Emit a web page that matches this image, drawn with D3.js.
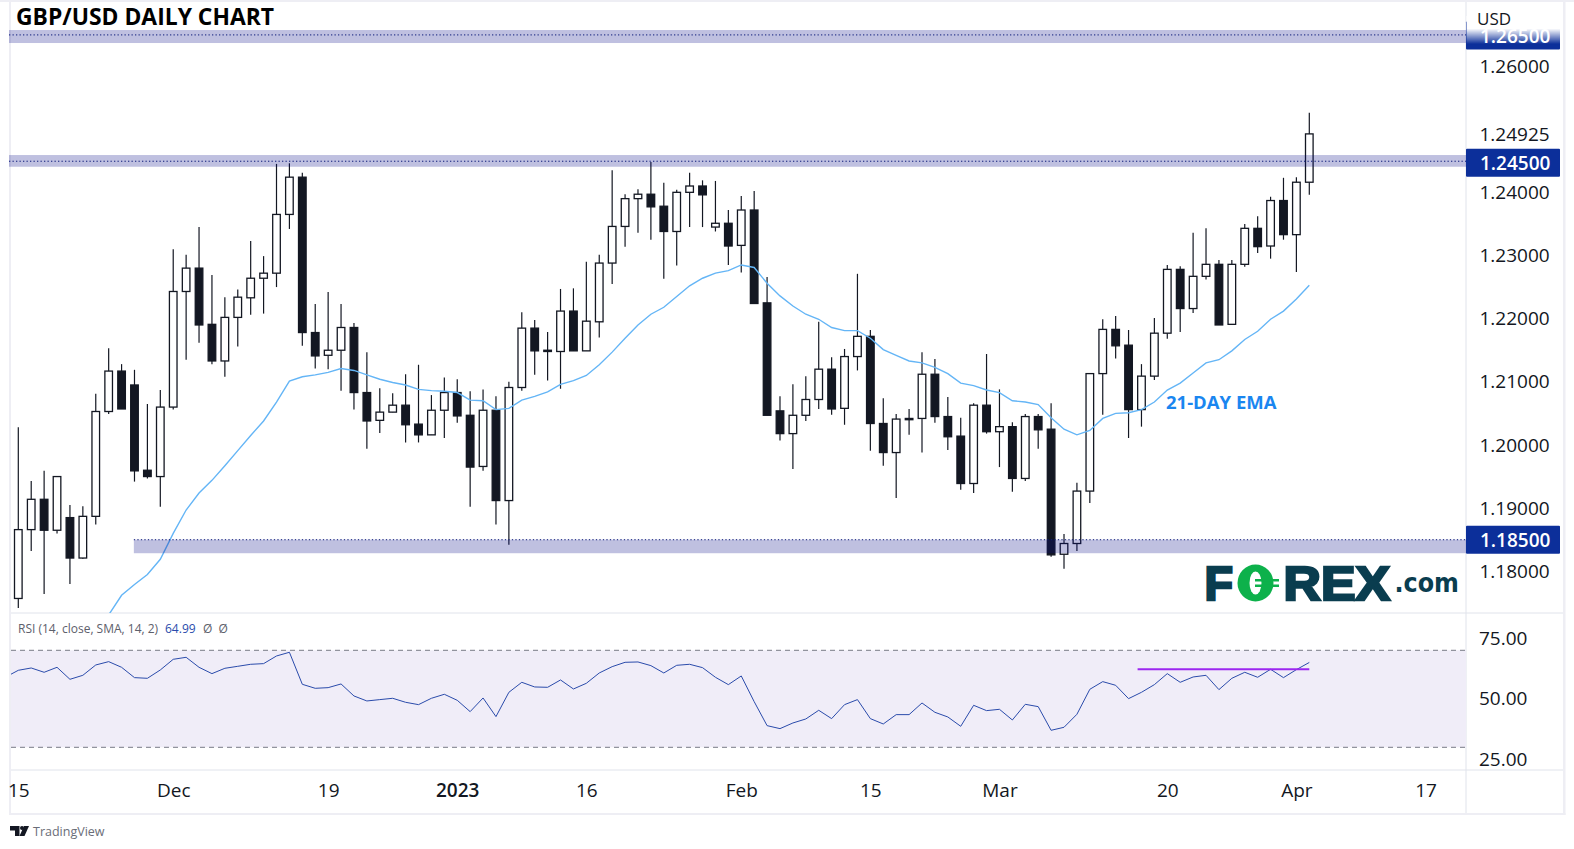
<!DOCTYPE html>
<html>
<head>
<meta charset="utf-8">
<script src="https://cdn.jsdelivr.net/npm/d3@7"></script>
<style>
  html, body { margin: 0; padding: 0; background: #fff; }
  svg { display: block; }
  text { font-family: "Open Sans", "Noto Sans", sans-serif; }
</style>
</head>
<body>
<div id="chart"></div>
<script>
// daily candles
const opens = [
  1.1757,1.1866,1.1914,1.1865,1.1885,1.1821,1.1887,1.2053,1.2117,1.2095,
  1.1960,1.1950,1.2060,1.2243,1.2280,1.2191,1.2133,1.2202,1.2233,1.2264,
  1.2272,1.2365,1.2424,1.2178,1.2142,1.2150,1.2186,1.2083,1.2039,1.2052,
  1.2063,1.2033,1.2016,1.2055,1.2083,1.2047,1.1966,1.2055,1.1912,1.2091,
  1.2185,1.2150,1.2148,1.2212,1.2149,1.2195,1.2288,1.2346,1.2390,1.2397,
  1.2378,1.2338,1.2400,1.2410,1.2345,1.2351,1.2316,1.2372,1.2225,1.2054,
  1.2018,1.2047,1.2072,1.2120,1.2058,1.2140,1.2172,1.2034,1.1988,1.2042,
  1.2042,1.2112,1.2045,1.2014,1.1939,1.2063,1.2021,1.2029,1.1947,1.2045,
  1.2025,1.1827,1.1844,1.1927,1.2113,1.2183,1.2158,1.2056,1.2109,1.2177,
  1.2278,1.2216,1.2267,1.2286,1.2191,1.2286,1.2343,1.2315,1.2387,1.2333,
  1.2416];
const highs = [
  1.2028,1.1943,1.1959,1.1950,1.1905,1.1903,1.2081,1.2153,1.2128,1.2119,
  1.2065,1.2087,1.2310,1.2301,1.2345,1.2269,1.2234,1.2246,1.2323,1.2299,
  1.2445,1.2446,1.2431,1.2223,1.2242,1.2223,1.2193,1.2147,1.2090,1.2082,
  1.2112,1.2127,1.2079,1.2107,1.2104,1.2085,1.2088,1.2077,1.2100,1.2210,
  1.2198,1.2179,1.2247,1.2248,1.2290,1.2301,1.2435,1.2397,1.2405,1.2448,
  1.2415,1.2404,1.2431,1.2419,1.2418,1.2372,1.2394,1.2402,1.2266,1.2077,
  1.2096,1.2109,1.2195,1.2139,1.2152,1.2271,1.2182,1.2074,1.2049,1.2057,
  1.2147,1.2136,1.2076,1.2043,1.2066,1.2144,1.2088,1.2036,1.2049,1.2049,
  1.2066,1.1859,1.1940,1.2113,1.2199,1.2204,1.2182,1.2128,1.2201,1.2285,
  1.2283,1.2336,1.2343,1.2293,1.2293,1.2350,1.2362,1.2393,1.2423,1.2424,
  1.2526];
const lows = [
  1.1742,1.1832,1.1764,1.1860,1.1780,1.1820,1.1874,1.2049,1.2057,1.1942,
  1.1947,1.1902,1.2056,1.2135,1.2162,1.2128,1.2108,1.2156,1.2206,1.2208,
  1.2250,1.2342,1.2157,1.2121,1.2120,1.2086,1.2056,1.1994,1.2019,1.2052,
  1.2004,1.2004,1.2016,1.2011,1.2035,1.1902,1.1959,1.1874,1.1842,1.2086,
  1.2111,1.2102,1.2089,1.2149,1.2149,1.2170,1.2255,1.2314,1.2336,1.2325,
  1.2263,1.2284,1.2345,1.2345,1.2338,1.2285,1.2273,1.2224,1.2047,1.2007,
  1.1962,1.2038,1.2057,1.2048,1.2032,1.2118,1.1991,1.1967,1.1916,1.2016,
  1.1988,1.2035,1.1992,1.1929,1.1924,1.2018,1.1965,1.1926,1.1943,1.1994,
  1.1823,1.1804,1.1832,1.1908,1.2048,1.2137,1.2011,1.2029,1.2103,1.2168,
  1.2179,1.2209,1.2262,1.2190,1.2191,1.2282,1.2304,1.2295,1.2325,1.2274,
  1.2396];
const closes = [
  1.1866,1.1914,1.1865,1.1950,1.1821,1.1887,1.2053,1.2117,1.2057,1.1959,
  1.1950,1.2060,1.2243,1.2280,1.2190,1.2133,1.2202,1.2234,1.2264,1.2272,
  1.2365,1.2424,1.2178,1.2141,1.2150,1.2186,1.2083,1.2038,1.2052,1.2063,
  1.2032,1.2016,1.2055,1.2083,1.2046,1.1965,1.2055,1.1912,1.2091,1.2185,
  1.2149,1.2148,1.2212,1.2149,1.2196,1.2288,1.2346,1.2390,1.2397,1.2377,
  1.2338,1.2400,1.2410,1.2396,1.2351,1.2315,1.2372,1.2224,1.2047,1.2018,
  1.2047,1.2072,1.2120,1.2057,1.2140,1.2172,1.2034,1.1988,1.2041,1.2040,
  1.2112,1.2045,1.2013,1.1939,1.2063,1.2021,1.2029,1.1947,1.2045,1.2024,
  1.1826,1.1844,1.1927,1.2113,1.2183,1.2157,1.2056,1.2109,1.2177,1.2278,
  1.2216,1.2267,1.2286,1.2190,1.2286,1.2343,1.2314,1.2387,1.2333,1.2416,
  1.24925];

// 21-day EMA, first point belongs to bar 7
const emaFirstBar = 7;
const ema = [
  1.1731,1.1762,1.1779,1.1795,1.1819,1.1860,1.1897,1.1924,1.1944,1.1967,
  1.1991,1.2015,1.2038,1.2068,1.2101,1.2108,1.2111,1.2115,1.2121,1.2118,
  1.2111,1.2104,1.2099,1.2095,1.2088,1.2086,1.2085,1.2083,1.2071,1.2070,
  1.2056,1.2058,1.2071,1.2077,1.2084,1.2096,1.2102,1.2110,1.2127,1.2147,
  1.2169,1.2190,1.2207,1.2218,1.2235,1.2252,1.2264,1.2272,1.2276,1.2285,
  1.2281,1.2256,1.2236,1.2220,1.2207,1.2199,1.2186,1.2181,1.2181,1.2169,
  1.2151,1.2142,1.2133,1.2130,1.2123,1.2113,1.2098,1.2094,1.2087,1.2083,
  1.2070,1.2068,1.2064,1.2043,1.2025,1.2016,1.2023,1.2042,1.2050,1.2051,
  1.2056,1.2068,1.2087,1.2098,1.2114,1.2130,1.2135,1.2149,1.2167,1.2180,
  1.2199,1.2212,1.2231,1.2253];

// RSI, first point belongs to bar -1 (just left of the pane)
const rsiFirstBar = -1;
const rsi = [
  58.90,61.75,62.71,60.93,62.99,58.04,59.69,63.95,65.33,62.99,58.73,
  58.45,61.89,66.29,67.11,62.99,60.38,62.58,63.40,64.23,64.50,
  67.66,69.18,55.98,54.33,54.60,56.12,51.17,49.11,49.66,50.21,
  48.56,47.59,50.21,51.86,49.38,44.71,50.34,42.65,52.68,56.80,
  54.88,54.74,57.77,54.05,56.39,60.65,63.26,65.05,65.19,63.68,
  60.65,63.81,64.23,62.85,58.87,55.84,59.42,48.83,38.93,37.70,
  40.03,41.68,45.26,41.82,47.59,49.66,41.82,39.62,43.47,43.47,
  48.28,44.43,42.51,38.66,47.32,45.12,45.67,41.27,47.73,46.77,
  37.01,38.25,43.61,53.92,57.08,55.57,50.07,52.68,55.84,60.38,
  56.80,59.00,59.69,53.78,58.45,60.93,58.87,62.16,58.73,62.03,
  64.99];

// axis content
const priceTicks = [1.26, 1.24, 1.23, 1.22, 1.21, 1.20, 1.19, 1.18];
const lastPrice = 1.24925;
const levels = [1.265, 1.245, 1.185];
const levelStarts = [-1, -1, 8.95]; // bar where each shaded zone starts
const rsiTicks = [75, 50, 25];
const rsiBand = [70, 30];
const rsiResistance = { from: 86.7, to: 100, value: 62.16 };
const tickBars = [0, 12, 24, 34, 44, 56, 66, 76, 89, 99, 109];
const tickLabels = ['15', 'Dec', '19', '2023', '16', 'Feb', '15', 'Mar', '20', 'Apr', '17'];

const W = 1574, H = 849;
const paneL = 11, paneR = 1466, paneT = 2, mainB = 613, rsiB = 770, timeB = 813, frameR = 1563;
const ink = '#131722', grid = '#e0e3eb', frame = '#eeeef4', blue = '#0c2f9a';
const fontSize = 19;

const x = d3.scaleLinear().domain([0, 100]).range([18.3, 1309.3]);
const y = d3.scaleLinear().domain([1.18, 1.26]).range([571.3, 66]);
const yRsi = d3.scaleLinear().domain([30, 70]).range([747.3, 650.3]);

const svg = d3.select('#chart').append('svg').attr('width', W).attr('height', H);
const defs = svg.append('defs');
defs.append('clipPath').attr('id', 'main').append('rect')
  .attr('x', paneL).attr('y', paneT).attr('width', paneR - paneL).attr('height', mainB - paneT);
defs.append('clipPath').attr('id', 'low').append('rect')
  .attr('x', paneL).attr('y', mainB).attr('width', paneR - paneL).attr('height', rsiB - mainB);
const fade = defs.append('linearGradient').attr('id', 'fade').attr('x1', 0).attr('x2', 0).attr('y1', 0).attr('y2', 1);
fade.append('stop').attr('offset', 0).attr('stop-color', '#fff').attr('stop-opacity', 1);
fade.append('stop').attr('offset', 0.45).attr('stop-color', '#fff').attr('stop-opacity', 1);
fade.append('stop').attr('offset', 1).attr('stop-color', '#fff').attr('stop-opacity', 0);

// frame around the panes
svg.append('rect').attr('width', W).attr('height', paneT).attr('fill', frame);
svg.append('rect').attr('x', 9).attr('width', 2).attr('height', timeB + 2).attr('fill', frame);
svg.append('rect').attr('x', frameR).attr('width', 2.5).attr('height', timeB + 2).attr('fill', frame);
svg.append('rect').attr('x', 9).attr('y', timeB).attr('width', frameR - 9 + 2.5).attr('height', 2).attr('fill', frame);
[[paneL, frameR, mainB, mainB], [paneL, frameR, rsiB, rsiB], [paneR, paneR, paneT, timeB]].forEach(l => {
  svg.append('line').attr('x1', l[0]).attr('x2', l[1]).attr('y1', l[2]).attr('y2', l[3])
    .attr('stroke', grid).attr('stroke-width', 1);
});

// candles
const bars = d3.range(opens.length);
const main = svg.append('g').attr('clip-path', 'url(#main)');
main.selectAll('line.wick').data(bars).join('line').attr('class', 'wick')
  .attr('x1', i => x(i)).attr('x2', i => x(i))
  .attr('y1', i => y(highs[i])).attr('y2', i => y(lows[i]))
  .attr('stroke', ink).attr('stroke-width', 1.2);
main.selectAll('rect.body').data(bars).join('rect').attr('class', 'body')
  .attr('x', i => x(i) - 3.8).attr('width', 7.6)
  .attr('y', i => y(Math.max(opens[i], closes[i])))
  .attr('height', i => Math.abs(y(opens[i]) - y(closes[i])))
  .attr('fill', i => closes[i] >= opens[i] ? '#fff' : ink)
  .attr('stroke', ink).attr('stroke-width', 1.3);

// ema
const emaLine = d3.line().x((d, i) => x(i + emaFirstBar)).y(d => y(d));
main.append('path').attr('d', emaLine(ema)).attr('fill', 'none')
  .attr('stroke', '#64b5f6').attr('stroke-width', 1.4);

// shaded zones, laid over the candles
const zoneTop = [-4.4, -5.7, 0];
const zoneBottom = [8.6, 6, 13.5];
const dotShift = [0.5, 0.5, 0];
const boxShift = [1, 2, 0];
levels.forEach((lv, k) => {
  const x0 = levelStarts[k] < 0 ? paneL - 2 : x(levelStarts[k]);
  svg.append('rect').attr('x', x0).attr('width', paneR - x0)
    .attr('y', y(lv) + zoneTop[k]).attr('height', zoneBottom[k] - zoneTop[k])
    .attr('fill', 'rgb(9,13,136)').attr('fill-opacity', 0.26);
  svg.append('line').attr('x1', x0).attr('x2', paneR)
    .attr('y1', y(lv) + dotShift[k]).attr('y2', y(lv) + dotShift[k])
    .attr('stroke', '#0c1a7a').attr('stroke-width', 1).attr('stroke-dasharray', '1.3 2.2');
});

svg.append('text').attr('x', 16).attr('y', 25).text('GBP/USD DAILY CHART')
  .attr('textLength', 258).attr('lengthAdjust', 'spacingAndGlyphs')
  .attr('font-size', 24).attr('font-weight', 700).attr('fill', '#000');
svg.append('text').attr('x', 1166).attr('y', 408.5).text('21-DAY EMA')
  .attr('font-size', 18.5).attr('font-weight', 700).attr('fill', '#1a86f0');

// price axis
const priceAxis = d3.axisRight(y).tickValues(priceTicks).tickFormat(d3.format('.5f')).tickSize(0).tickPadding(0);
const gPrice = svg.append('g').attr('transform', `translate(${paneR + 13.5},0)`).call(priceAxis);
gPrice.select('.domain').remove();
gPrice.selectAll('text').attr('font-size', fontSize).attr('fill', ink).style('font-family', '"Open Sans"');
svg.append('text').attr('x', paneR + 13.5).attr('y', y(lastPrice) + 1.5).attr('dy', '.32em')
  .text(d3.format('.5f')(lastPrice)).attr('font-size', fontSize).attr('fill', ink);

levels.forEach((lv, k) => {
  svg.append('rect').attr('x', paneR).attr('width', 94).attr('y', y(lv) + boxShift[k] - 14).attr('height', 28)
    .attr('rx', 1).attr('fill', blue);
  svg.append('text').attr('x', paneR + 14).attr('y', y(lv) + boxShift[k]).attr('dy', '.4em')
    .text(d3.format('.5f')(lv)).attr('font-size', fontSize).attr('font-weight', 600).attr('fill', '#fff');
});
// top label fades out under the USD header
svg.append('rect').attr('x', paneR + 0.5).attr('y', 16).attr('width', 95).attr('height', 28).attr('fill', 'url(#fade)');
svg.append('text').attr('x', 1477).attr('y', 25).text('USD').attr('font-size', 17).attr('fill', ink);

// forex.com mark
const logo = svg.append('g').attr('fill', '#0a3d4f');
const logoFont = '"Liberation Sans"';
[['F', 1204.5, 28.5], ['REX', 1283.5, 106.5]].forEach(d => {
  logo.append('text').attr('x', d[1]).attr('y', 599.5).text(d[0])
    .attr('textLength', d[2]).attr('lengthAdjust', 'spacingAndGlyphs')
    .attr('font-size', 47.5).attr('font-weight', 700).style('font-family', logoFont)
    .attr('stroke', '#0a3d4f').attr('stroke-width', 2.5);
});
logo.append('text').attr('x', 1394.5).attr('y', 591.5).text('.com')
  .attr('textLength', 64.5).attr('lengthAdjust', 'spacingAndGlyphs')
  .attr('font-size', 27).attr('font-weight', 700).style('font-family', '"DejaVu Sans"');
logo.append('ellipse').attr('cx', 1255.5).attr('cy', 583).attr('rx', 18).attr('ry', 18.5).attr('fill', '#0db14b');
logo.append('ellipse').attr('cx', 1255.5).attr('cy', 583).attr('rx', 6).attr('ry', 11.5).attr('fill', '#fff');
logo.append('rect').attr('x', 1255).attr('y', 579).attr('width', 24).attr('height', 2.5).attr('fill', '#0db14b');
logo.append('rect').attr('x', 1255).attr('y', 584.5).attr('width', 24).attr('height', 2.5).attr('fill', '#0db14b');

// rsi pane
const low = svg.append('g').attr('clip-path', 'url(#low)');
low.append('rect').attr('x', paneL).attr('width', paneR - paneL)
  .attr('y', yRsi(rsiBand[0])).attr('height', yRsi(rsiBand[1]) - yRsi(rsiBand[0]))
  .attr('fill', '#f0edf8');
low.selectAll('line.band').data(rsiBand).join('line').attr('class', 'band')
  .attr('x1', paneL).attr('x2', paneR).attr('y1', d => yRsi(d)).attr('y2', d => yRsi(d))
  .attr('stroke', '#787b86').attr('stroke-width', 1).attr('stroke-dasharray', '5 4');
const rsiLine = d3.line().x((d, i) => x(i + rsiFirstBar)).y(d => yRsi(d));
low.append('path').attr('d', rsiLine(rsi)).attr('fill', 'none')
  .attr('stroke', '#2a4bab').attr('stroke-width', 1);
low.append('line').attr('x1', x(rsiResistance.from)).attr('x2', x(rsiResistance.to))
  .attr('y1', yRsi(rsiResistance.value)).attr('y2', yRsi(rsiResistance.value))
  .attr('stroke', '#9c27f0').attr('stroke-width', 2);

const rsiAxis = d3.axisRight(yRsi).tickValues(rsiTicks).tickFormat(d3.format('.2f')).tickSize(0).tickPadding(0);
const gRsi = svg.append('g').attr('transform', `translate(${paneR + 13},0)`).call(rsiAxis);
gRsi.select('.domain').remove();
gRsi.selectAll('text').attr('font-size', fontSize).attr('fill', ink).style('font-family', '"Open Sans"');

const legend = svg.append('text').attr('x', 18).attr('y', 633).attr('font-size', 12).attr('fill', '#5d606b');
legend.append('tspan').text('RSI (14, close, SMA, 14, 2)');
legend.append('tspan').attr('x', 165).attr('fill', '#2a4bab').text('64.99');
legend.append('tspan').attr('x', 203).text('Ø');
legend.append('tspan').attr('x', 218.5).text('Ø');

// time axis
const timeAxis = d3.axisBottom(x).tickValues(tickBars).tickFormat((d, i) => tickLabels[i]).tickSize(0).tickPadding(0);
const gTime = svg.append('g').attr('transform', 'translate(0,783)').call(timeAxis);
gTime.select('.domain').remove();
gTime.selectAll('text').attr('font-size', fontSize).attr('fill', ink).style('font-family', '"Open Sans"')
  .attr('font-weight', (d, i) => tickLabels[i] === '2023' ? 600 : 400);

// tradingview mark
const tv = svg.append('g').attr('fill', '#131722');
tv.append('path').attr('d', 'M10 826h9.5v10h-4.5v-5.6h-5z');
tv.append('circle').attr('cx', 22).attr('cy', 828).attr('r', 2);
tv.append('path').attr('d', 'M24 826h5l-4.5 10h-5z');
svg.append('text').attr('x', 33).attr('y', 836).text('TradingView').attr('font-size', 12.5).attr('fill', '#6a6d78');
</script>
</body>
</html>
